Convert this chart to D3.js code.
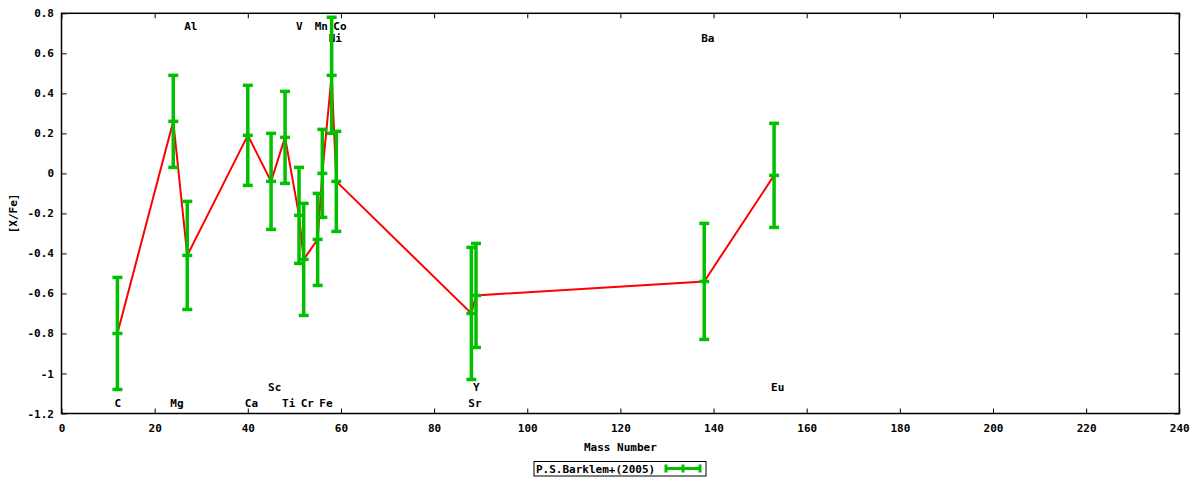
<!DOCTYPE html>
<html>
<head>
<meta charset="utf-8">
<script src="https://cdn.jsdelivr.net/npm/d3@7"></script>
<style>
  html, body { margin: 0; padding: 0; background: #fff; }
  svg { display: block; }
  text { font-family: "DejaVu Sans Mono", "Liberation Mono", monospace; font-weight: bold; font-size: 11px; fill: #000; }
</style>
</head>
<body>
<svg id="chart" width="1200" height="480"></svg>
<script>
// ---- data ----
const elements    = ["C", "Mg", "Al", "Ca", "Sc", "Ti", "V", "Cr", "Mn", "Fe", "Ni", "Co", "Sr", "Y", "Ba", "Eu"];
const massNumbers = [12, 24, 27, 40, 45, 48, 51, 52, 55, 56, 58, 59, 88, 89, 138, 153];
const xfeValues   = [-0.80, 0.26, -0.41, 0.19, -0.04, 0.18, -0.21, -0.43, -0.33, 0.00, 0.49, -0.04, -0.70, -0.61, -0.54, -0.01];
const xfeErrors   = [0.28, 0.23, 0.27, 0.25, 0.24, 0.23, 0.24, 0.28, 0.23, 0.22, 0.29, 0.25, 0.33, 0.26, 0.29, 0.26];
const labelValues = [-1.15, -1.15, 0.735, -1.15, -1.07, -1.15, 0.735, -1.15, 0.735, -1.15, 0.675, 0.735, -1.15, -1.07, 0.675, -1.07];
const xTicks = [0, 20, 40, 60, 80, 100, 120, 140, 160, 180, 200, 220, 240];
const yTicks = [-1.2, -1.0, -0.8, -0.6, -0.4, -0.2, 0, 0.2, 0.4, 0.6, 0.8];
const seriesName = "P.S.Barklem+(2005)";
const xTitle = "Mass Number";
const yTitle = "[X/Fe]";

// ---- layout ----
const L = 61.5, R = 1179.3, T = 13.3, B = 413.5;
const GREEN = "#00c000", RED = "#ff0000";

const svg = d3.select("#chart");
svg.append("rect").attr("width", 1200).attr("height", 480).attr("fill", "#fff");

const x = d3.scaleLinear().domain([0, 240]).range([L, R]);
const y = d3.scaleLinear().domain([-1.2, 0.8]).range([B, T]);

const yFmt = d => String(+d.toFixed(1));

// axes (ticks inward, mirrored)
const gx = svg.append("g").attr("transform", `translate(0,${B})`)
  .call(d3.axisBottom(x).tickValues(xTicks).tickSize(-5).tickPadding(11).tickFormat(d3.format("d")));
const gxt = svg.append("g").attr("transform", `translate(0,${T})`)
  .call(d3.axisTop(x).tickValues(xTicks).tickSize(-5).tickFormat(""));
const gy = svg.append("g").attr("transform", `translate(${L},0)`)
  .call(d3.axisLeft(y).tickValues(yTicks).tickSize(-5).tickPadding(7.5).tickFormat(yFmt));
const gyr = svg.append("g").attr("transform", `translate(${R},0)`)
  .call(d3.axisRight(y).tickValues(yTicks).tickSize(-5).tickFormat(""));
[gx, gxt, gy, gyr].forEach(g => {
  g.select(".domain").remove();
  g.selectAll(".tick line").attr("stroke", "#000").attr("stroke-width", 1);
  g.selectAll("text").attr("font-family", null).attr("font-size", null).attr("fill", "#000");
});

// frame
svg.append("rect").attr("x", L).attr("y", T).attr("width", R - L).attr("height", B - T)
  .attr("fill", "none").attr("stroke", "#000").attr("stroke-width", 1.5);

// axis titles
svg.append("text").attr("x", (L + R) / 2).attr("y", 447).attr("text-anchor", "middle")
  .attr("dominant-baseline", "central").text(xTitle);
svg.append("text").attr("transform", `translate(13,${(T + B) / 2}) rotate(-90)`)
  .attr("text-anchor", "middle").attr("dominant-baseline", "central").text(yTitle);

// element labels (drawn under data)
svg.append("g").selectAll("text").data(elements).join("text")
  .attr("x", (d, i) => x(massNumbers[i]))
  .attr("dx", -3)
  .attr("y", (d, i) => y(labelValues[i]))
  .attr("dominant-baseline", "central")
  .attr("text-anchor", "start")
  .text(d => d);

// connecting line
const pts = massNumbers.map((m, i) => [m, xfeValues[i]]);
svg.append("path").datum(pts)
  .attr("fill", "none").attr("stroke", RED).attr("stroke-width", 2)
  .attr("d", d3.line().x(d => x(d[0])).y(d => y(d[1])));

// error bars
const eb = svg.append("g").attr("stroke", GREEN).attr("stroke-width", 3.5);
const cap = 5;
massNumbers.forEach((m, i) => {
  const cx = x(m), v = xfeValues[i], e = xfeErrors[i];
  const g = eb.append("g");
  g.append("line").attr("x1", cx).attr("x2", cx).attr("y1", y(v + e)).attr("y2", y(v - e));
  [v + e, v, v - e].forEach(val => {
    g.append("line").attr("x1", cx - cap).attr("x2", cx + cap).attr("y1", y(val)).attr("y2", y(val));
  });
});

// legend
const lg = svg.append("g");
lg.append("rect").attr("x", 534).attr("y", 461.5).attr("width", 172).attr("height", 14.5)
  .attr("fill", "#fff").attr("stroke", "#000").attr("stroke-width", 1);
lg.append("text").attr("x", 536).attr("y", 469).attr("dominant-baseline", "central").text(seriesName);
const ls = lg.append("g").attr("stroke", GREEN).attr("stroke-width", 3);
ls.append("line").attr("x1", 666).attr("x2", 700).attr("y1", 468.5).attr("y2", 468.5);
[666, 683, 700].forEach(px => {
  ls.append("line").attr("x1", px).attr("x2", px).attr("y1", 464.5).attr("y2", 472.5);
});
</script>
</body>
</html>
